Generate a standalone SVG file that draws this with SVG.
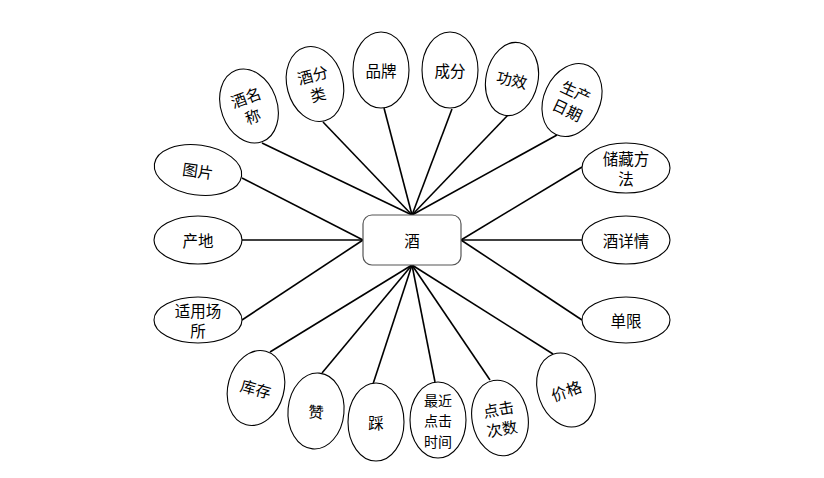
<svg xmlns="http://www.w3.org/2000/svg" width="824" height="478" viewBox="0 0 824 478">
<style>
.e{fill:#fff;stroke:#000;stroke-width:1.1}
.t{font-family:"Noto Sans CJK SC","Liberation Sans",sans-serif;font-size:15.5px;fill:#000;text-anchor:middle;dominant-baseline:central}
.s{font-size:14px}
.c{stroke:#000;stroke-width:1.6;fill:none}
</style>
<rect width="824" height="478" fill="#fff"/>
<g id="connectors">
<line class="c" x1="262" y1="143" x2="412" y2="215"/>
<line class="c" x1="323" y1="122" x2="412" y2="215"/>
<line class="c" x1="384" y1="108" x2="412" y2="215"/>
<line class="c" x1="452" y1="109" x2="412" y2="215"/>
<line class="c" x1="508" y1="115" x2="412" y2="215"/>
<line class="c" x1="557" y1="135" x2="412" y2="215"/>
<line class="c" x1="242" y1="178" x2="363" y2="240"/>
<line class="c" x1="242" y1="240" x2="363" y2="240"/>
<line class="c" x1="242" y1="320" x2="363" y2="240"/>
<line class="c" x1="582" y1="167" x2="461" y2="240"/>
<line class="c" x1="582" y1="240" x2="461" y2="240"/>
<line class="c" x1="582" y1="320" x2="461" y2="240"/>
<line class="c" x1="270" y1="352" x2="412" y2="265"/>
<line class="c" x1="322" y1="373" x2="412" y2="265"/>
<line class="c" x1="373" y1="384" x2="412" y2="265"/>
<line class="c" x1="435" y1="382" x2="412" y2="265"/>
<line class="c" x1="490" y1="380" x2="412" y2="265"/>
<line class="c" x1="553" y1="354" x2="412" y2="265"/>
</g>
<g id="center">
<rect x="363" y="215" width="98" height="50" rx="9" fill="#fff" stroke="#555" stroke-width="1.2"/>
<text class="t" x="412" y="240">酒</text>
</g>
<g id="n-jiumingcheng" transform="translate(249,106) rotate(-20)">
<ellipse class="e" rx="28" ry="38"/>
<text class="t"><tspan x="0" y="-10">酒名</tspan><tspan x="0" y="10">称</tspan></text>
</g>
<g id="n-jiufenlei" transform="translate(315,84) rotate(-15)">
<ellipse class="e" rx="28" ry="38"/>
<text class="t"><tspan x="0" y="-10">酒分</tspan><tspan x="0" y="10">类</tspan></text>
</g>
<g id="n-pinpai" transform="translate(381,70)">
<ellipse class="e" rx="28" ry="38"/>
<text class="t" y="0">品牌</text>
</g>
<g id="n-chengfen" transform="translate(450,70)">
<ellipse class="e" rx="28" ry="38"/>
<text class="t" y="0">成分</text>
</g>
<g id="n-gongxiao" transform="translate(512,79) rotate(12)">
<ellipse class="e" rx="26" ry="37"/>
<text class="t" y="0">功效</text>
</g>
<g id="n-shengchanriqi" transform="translate(572,100) rotate(25)">
<ellipse class="e" rx="28" ry="38"/>
<text class="t"><tspan x="0" y="-10">生产</tspan><tspan x="0" y="10">日期</tspan></text>
</g>
<g id="n-tupian" transform="translate(198,170) rotate(8)">
<ellipse class="e" rx="44" ry="25"/>
<text class="t" y="0">图片</text>
</g>
<g id="n-chandi" transform="translate(198,240)">
<ellipse class="e" rx="44" ry="24"/>
<text class="t" y="0">产地</text>
</g>
<g id="n-shiyongchangsuo" transform="translate(198,320)">
<ellipse class="e" rx="44" ry="23"/>
<text class="t"><tspan x="0" y="-10">适用场</tspan><tspan x="0" y="10">所</tspan></text>
</g>
<g id="n-chucangfangfa" transform="translate(626,168)">
<ellipse class="e" rx="44" ry="25"/>
<text class="t"><tspan x="0" y="-10">储藏方</tspan><tspan x="0" y="10">法</tspan></text>
</g>
<g id="n-jiuxiangqing" transform="translate(626,240)">
<ellipse class="e" rx="44" ry="24"/>
<text class="t" y="0">酒详情</text>
</g>
<g id="n-danxian" transform="translate(626,320)">
<ellipse class="e" rx="44" ry="23"/>
<text class="t" y="0">单限</text>
</g>
<g id="n-kucun" transform="translate(256,388) rotate(15)">
<ellipse class="e" rx="28" ry="38"/>
<text class="t" y="0">库存</text>
</g>
<g id="n-zan" transform="translate(316,411) rotate(5)">
<ellipse class="e" rx="28" ry="38"/>
<text class="t" y="0">赞</text>
</g>
<g id="n-cai" transform="translate(376,422)">
<ellipse class="e" rx="28" ry="39"/>
<text class="t" y="0">踩</text>
</g>
<g id="n-zuijindianjishijian" transform="translate(438,420)">
<ellipse class="e" rx="28" ry="38"/>
<text class="t s"><tspan x="0" y="-20.5">最近</tspan><tspan x="0" y="0">点击</tspan><tspan x="0" y="20.5">时间</tspan></text>
</g>
<g id="n-dianjicishu" transform="translate(500,418) rotate(-10)">
<ellipse class="e" rx="28" ry="38"/>
<text class="t"><tspan x="0" y="-10">点击</tspan><tspan x="0" y="10">次数</tspan></text>
</g>
<g id="n-jiage" transform="translate(566,390) rotate(-20)">
<ellipse class="e" rx="28" ry="38"/>
<text class="t" y="0">价格</text>
</g>
</svg>
